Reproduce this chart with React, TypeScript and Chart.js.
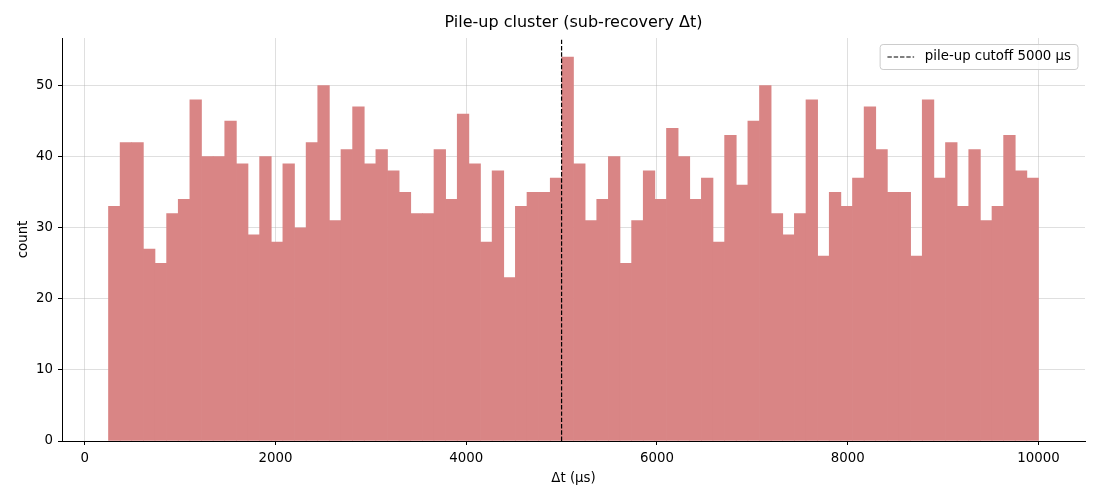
import { useEffect, useRef } from 'react';
import { Chart, registerables } from 'chart.js';

Chart.register(...registerables);

const FONT = "'DejaVu Sans', sans-serif";

// histogram range and per-bin counts (80 bins)
const histMin = 250;
const histMax = 10000;
const counts = [
  33, 42, 42, 27, 25, 32, 34, 48, 40, 40, 45, 39, 29, 40, 28, 39, 30, 42, 50, 31,
  41, 47, 39, 41, 38, 35, 32, 32, 41, 34, 46, 39, 28, 38, 23, 33, 35, 35, 37, 54,
  39, 31, 34, 40, 25, 31, 38, 34, 44, 40, 34, 37, 28, 43, 36, 45, 50, 32, 29, 32,
  48, 26, 35, 33, 37, 47, 41, 35, 35, 26, 48, 37, 42, 33, 41, 31, 33, 43, 38, 37,
];

const cutoff = 5000;
const xTicks = [0, 2000, 4000, 6000, 8000, 10000];
const yTicks = [0, 10, 20, 30, 40, 50];

const TITLE = 'Pile-up cluster (sub-recovery Δt)';
const X_LABEL = 'Δt (µs)';
const Y_LABEL = 'count';
const LEGEND_LABEL = `pile-up cutoff ${cutoff} µs`;

const BAR_COLOR = '#d98585';
const GRID_COLOR = 'rgba(176, 176, 176, 0.4)';
const DASH = [4.4, 1.9];

const titlePlugin = {
  id: 'axesTitle',
  afterDraw(chart: Chart) {
    const { ctx, chartArea } = chart;
    ctx.save();
    ctx.font = `16px ${FONT}`;
    ctx.fillStyle = '#000';
    ctx.textAlign = 'center';
    ctx.textBaseline = 'middle';
    ctx.fillText(TITLE, (chartArea.left + chartArea.right) / 2, 23);
    ctx.restore();
  },
};

const legendPlugin = {
  id: 'boxLegend',
  afterDraw(chart: Chart) {
    const { ctx, chartArea } = chart;
    ctx.save();
    ctx.font = `13.33px ${FONT}`;
    const tw = ctx.measureText(LEGEND_LABEL).width;
    const w = 7.3 + 26.7 + 10.7 + tw + 7;
    const h = 25;
    const right = chartArea.right - 7;
    const top = chartArea.top + 6.5;
    const left = right - w;
    ctx.beginPath();
    ctx.roundRect(left, top, w, h, 3);
    ctx.fillStyle = 'rgba(255, 255, 255, 0.8)';
    ctx.fill();
    ctx.strokeStyle = '#cccccc';
    ctx.lineWidth = 1;
    ctx.stroke();
    const cy = top + h / 2;
    ctx.beginPath();
    ctx.setLineDash(DASH);
    ctx.moveTo(left + 7.3, cy);
    ctx.lineTo(left + 34, cy);
    ctx.strokeStyle = '#000';
    ctx.lineWidth = 1.2;
    ctx.stroke();
    ctx.setLineDash([]);
    ctx.fillStyle = '#000';
    ctx.textAlign = 'left';
    ctx.textBaseline = 'middle';
    ctx.fillText(LEGEND_LABEL, left + 44.7, cy);
    ctx.restore();
  },
};

export default function App() {
  const canvasRef = useRef<HTMLCanvasElement>(null);
  const chartRef = useRef<Chart | null>(null);

  useEffect(() => {
    document.body.style.margin = '0';
    if (!canvasRef.current) return;
    if (chartRef.current) chartRef.current.destroy();

    const binWidth = (histMax - histMin) / counts.length;
    const span = histMax - histMin;
    const xMin = histMin - span * 0.05;
    const xMax = histMax + span * 0.05;
    const yMax = Math.max(...counts) * 1.05;

    const tickFont = { family: FONT, size: 13.33 };

    chartRef.current = new Chart(canvasRef.current, {
      type: 'bar',
      data: {
        datasets: [
          {
            type: 'line',
            data: [
              { x: cutoff, y: 0 },
              { x: cutoff, y: yMax },
            ],
            borderColor: '#000',
            borderWidth: 1.2,
            borderDash: DASH,
            pointRadius: 0,
            order: -1,
          },
          {
            type: 'bar',
            data: counts.map((c, i) => ({ x: histMin + (i + 0.5) * binWidth, y: c })),
            backgroundColor: BAR_COLOR,
            borderWidth: 0,
            barPercentage: 1,
            categoryPercentage: 1,
          },
        ] as any,
      },
      options: {
        animation: false,
        responsive: true,
        maintainAspectRatio: false,
        layout: { padding: { top: 38, right: 15, left: 0, bottom: 0 } },
        plugins: {
          legend: { display: false },
          tooltip: { enabled: false },
        },
        scales: {
          x: {
            type: 'linear',
            min: xMin,
            max: xMax,
            offset: false,
            z: 1,
            afterBuildTicks: (s: any) => {
              s.ticks = xTicks.map((value) => ({ value }));
            },
            afterFit: (s: any) => {
              s.height = 59;
            },
            ticks: {
              font: tickFont,
              color: '#000',
              padding: 6,
              maxRotation: 0,
              callback: (v: any) => String(v),
            },
            grid: { offset: false, color: GRID_COLOR, tickColor: '#000', tickLength: 4, lineWidth: 1 },
            border: { display: true, color: '#000', width: 1 },
            title: {
              display: true,
              text: X_LABEL,
              font: tickFont,
              color: '#000',
              padding: { top: 4, bottom: 13 },
            },
          },
          y: {
            type: 'linear',
            min: 0,
            max: yMax,
            z: 1,
            afterBuildTicks: (s: any) => {
              s.ticks = yTicks.map((value) => ({ value }));
            },
            afterFit: (s: any) => {
              s.width = 62;
            },
            ticks: {
              font: tickFont,
              color: '#000',
              padding: 5,
              callback: (v: any) => String(v),
            },
            grid: { color: GRID_COLOR, tickColor: '#000', tickLength: 4, lineWidth: 1 },
            border: { display: true, color: '#000', width: 1 },
            title: {
              display: true,
              text: Y_LABEL,
              font: tickFont,
              color: '#000',
              padding: { top: 16, bottom: 0 },
            },
          },
        },
      },
      plugins: [titlePlugin, legendPlugin],
    });

    return () => {
      if (chartRef.current) {
        chartRef.current.destroy();
        chartRef.current = null;
      }
    };
  }, []);

  return (
    <div style={{ width: 1100, height: 500, position: 'relative' }}>
      <canvas ref={canvasRef} />
    </div>
  );
}
